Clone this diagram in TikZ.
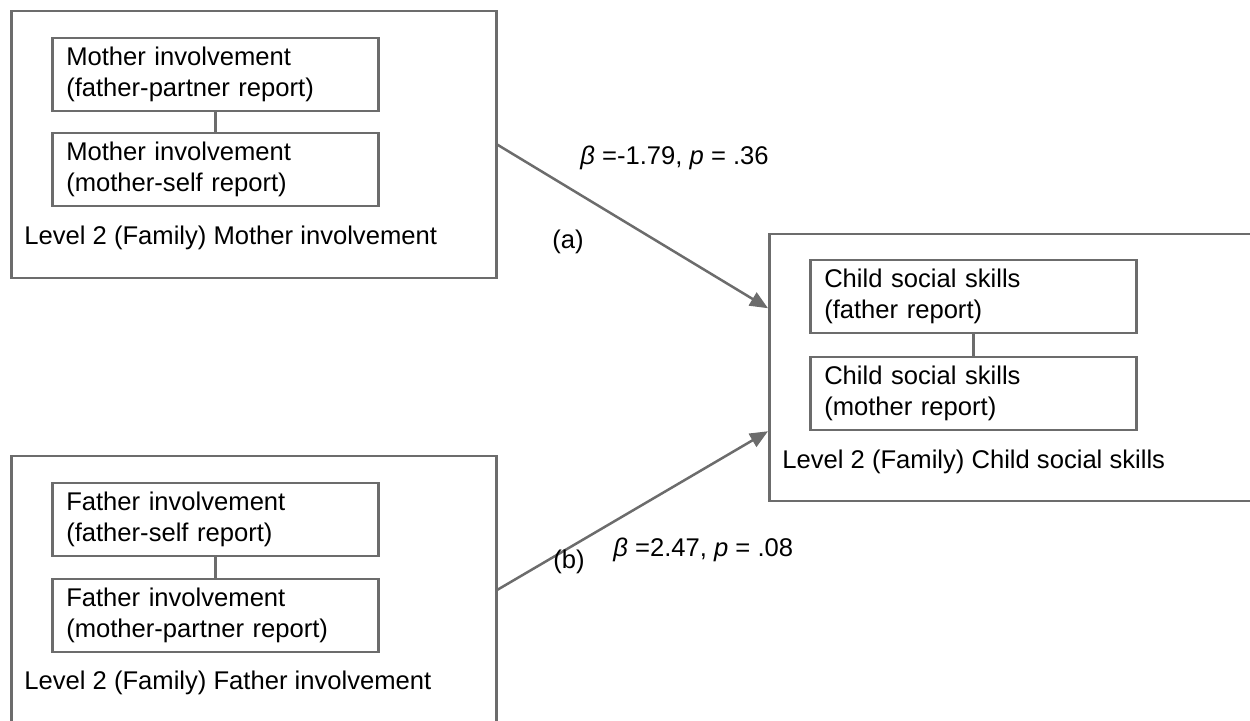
\documentclass[tikz,border=0pt]{standalone}
\usepackage{fontspec}
\setmainfont{Liberation Sans}
\usetikzlibrary{calc,arrows.meta}
\definecolor{lineGray}{RGB}{108,108,108}
\newcommand{\DiagFont}{\fontsize{12.8}{15.5}\selectfont}
\newcommand{\BetaLab}[2]{\textit{β} =#1, \textit{p} = #2}
\tikzset{
  lvlbox/.style={draw=lineGray,line width=1.25pt,anchor=north west,inner sep=0pt,minimum height=133.5pt},
  itembox/.style={draw=lineGray,line width=1.25pt,anchor=north west,inner sep=0pt,inner xsep=7pt,minimum height=36.5pt,text width=149pt,align=left,font=\DiagFont},
  lvllabel/.style={anchor=west,inner sep=0pt,font=\DiagFont},
  pathlabel/.style={anchor=west,inner sep=0pt,font=\DiagFont},
  patharrow/.style={draw=lineGray,line width=1.25pt,-{Triangle[length=9pt,width=7.5pt]}}
}
\begin{document}
\begin{tikzpicture}[x=0.5pt,y=-0.5pt]
\useasboundingbox (0,0) rectangle (1250,721);
\node[lvlbox,minimum width=242.5pt] (momL2) at (10,10) {};
\node[itembox] (momFP) at (51,37) {Mother involvement\\(father-partner report)};
\node[itembox] (momMS) at (51,132) {Mother involvement\\(mother-self report)};
\node[lvllabel] (momLab) at (24,238) {Level 2 (Family) Mother involvement};
\draw[draw=lineGray,line width=1.25pt] (momFP) -- (momMS);
\node[lvlbox,minimum width=242.5pt] (dadL2) at (10,455) {};
\node[itembox] (dadFS) at (51,482) {Father involvement\\(father-self report)};
\node[itembox] (dadMP) at (51,578) {Father involvement\\(mother-partner report)};
\node[lvllabel] (dadLab) at (24,683) {Level 2 (Family) Father involvement};
\draw[draw=lineGray,line width=1.25pt] (dadFS) -- (dadMP);
\node[lvlbox,minimum width=250pt] (kidL2) at (768,233) {};
\node[itembox] (kidFR) at (809,259) {Child social skills\\(father report)};
\node[itembox] (kidMR) at (809,356) {Child social skills\\(mother report)};
\node[lvllabel] (kidLab) at (782,462) {Level 2 (Family) Child social skills};
\draw[draw=lineGray,line width=1.25pt] (kidFR) -- (kidMR);
\coordinate (tipA) at ($(kidL2.west)+(0,-59.5)$);
\coordinate (tipB) at ($(kidL2.west)+(0,63.5)$);
\draw[patharrow] (momL2.east) -- (tipA);
\draw[patharrow] (dadL2.east) -- (tipB);
\node[pathlabel] (labA) at (580,158) {\BetaLab{-1.79}{.36}};
\node[pathlabel] (tagA) at (552,242) {(a)};
\node[pathlabel] (labB) at (613,550) {\BetaLab{2.47}{.08}};
\node[pathlabel] (tagB) at (553,562) {(b)};
\end{tikzpicture}
\end{document}
